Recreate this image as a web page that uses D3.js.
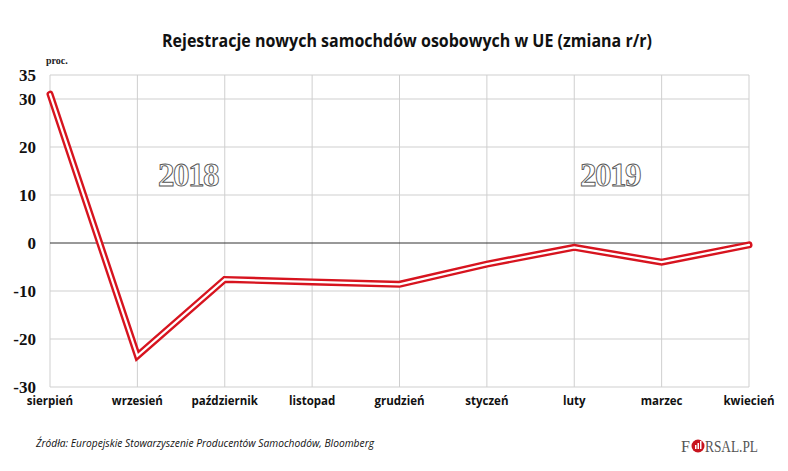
<!DOCTYPE html>
<html><head><meta charset="utf-8">
<script src="https://cdn.jsdelivr.net/npm/d3@7"></script>
<style>body{margin:0;background:#fff}svg{display:block}</style>
</head><body>
<script>
const categories = ["sierpień","wrzesień","październik","listopad","grudzień","styczeń","luty","marzec","kwiecień"];
const values = [31, -23.5, -7.6, -8.1, -8.6, -4.4, -0.9, -4.0, -0.4];
const yTicks = [35, 30, 20, 10, 0, -10, -20, -30];
const yearLabels = [{text:"2018", cat:"październik", offset:-0.42}, {text:"2019", cat:"luty", offset:0.41}];

const W = 788, H = 471;
const svg = d3.select("body").append("svg").attr("width", W).attr("height", H);

const x = d3.scalePoint().domain(categories).range([50, 749]);
const y = d3.scaleLinear().domain([-30, 35]).range([387, 75]);

// title
svg.append("text").attr("x", 407).attr("y", 47).attr("text-anchor", "middle")
  .attr("font-family", "Open Sans, sans-serif").attr("font-weight", "bold").attr("font-size", 17)
  .attr("textLength", 490).attr("lengthAdjust", "spacingAndGlyphs").attr("fill", "#111")
  .text("Rejestracje nowych samochdów osobowych w UE (zmiana r/r)");

// grid horizontal
svg.append("g").selectAll("line").data(yTicks.filter(d => d !== 0)).join("line")
  .attr("x1", 50).attr("x2", 749).attr("y1", d => y(d)).attr("y2", d => y(d))
  .attr("stroke", "#cfcfcf").attr("stroke-width", 1);
// grid vertical
svg.append("g").selectAll("line").data(categories).join("line")
  .attr("x1", d => x(d)).attr("x2", d => x(d)).attr("y1", y(35)).attr("y2", y(-30))
  .attr("stroke", "#cfcfcf").attr("stroke-width", 1);
// zero line
svg.append("line").attr("x1", 50).attr("x2", 749).attr("y1", y(0)).attr("y2", y(0))
  .attr("stroke", "#333").attr("stroke-width", 1);

// y tick labels
svg.append("g").selectAll("text").data(yTicks).join("text")
  .attr("x", 36).attr("y", d => y(d)).attr("dy", "0.35em").attr("text-anchor", "end")
  .attr("font-family", "Liberation Serif, serif").attr("font-weight", "bold").attr("font-size", 17)
  .attr("fill", "#111").text(d => d);
svg.append("text").attr("x", 46).attr("y", 64).attr("font-family", "Liberation Serif, serif")
  .attr("font-weight", "bold").attr("font-size", 10).attr("fill", "#222").text("proc.");

// x labels
svg.append("g").selectAll("text").data(categories).join("text")
  .attr("x", d => x(d)).attr("y", 405).attr("text-anchor", "middle")
  .attr("font-family", "Open Sans, sans-serif").attr("font-weight", "bold").attr("font-size", 11.5)
  .attr("fill", "#111").text(d => d);

// year labels
const step = x.step();
svg.append("g").selectAll("text").data(yearLabels).join("text")
  .attr("x", d => x(d.cat) + d.offset * step).attr("y", 186).attr("text-anchor", "middle")
  .attr("font-family", "Liberation Serif, serif").attr("font-weight", "bold").attr("font-size", 33)
  .attr("letter-spacing", -1.5)
  .attr("fill", "#fff").attr("stroke", "#555").attr("stroke-width", 0.9)
  .text(d => d.text);

// line
const line = d3.line().x((d, i) => x(categories[i])).y(d => y(d));
svg.append("path").datum(values).attr("d", line).attr("fill", "none")
  .attr("stroke", "#d7141f").attr("stroke-width", 7).attr("stroke-linejoin", "miter")
  .attr("stroke-linecap", "round");
svg.append("path").datum(values).attr("d", line).attr("fill", "none")
  .attr("stroke", "#fff").attr("stroke-width", 2.2).attr("stroke-linejoin", "miter")
  .attr("stroke-linecap", "round");

// source
svg.append("text").attr("x", 36).attr("y", 447).attr("font-family", "Open Sans, sans-serif")
  .attr("font-style", "italic").attr("font-size", 11).attr("fill", "#111")
  .attr("textLength", 338).attr("lengthAdjust", "spacingAndGlyphs")
  .text("Źródła: Europejskie Stowarzyszenie Producentów Samochodów, Bloomberg");

// logo
const lg = svg.append("g");
lg.append("text").attr("x", 681).attr("y", 452).attr("font-family", "Liberation Serif, serif")
  .attr("font-size", 16).attr("fill", "#555").text("F");
lg.append("circle").attr("cx", 698).attr("cy", 446).attr("r", 6.5).attr("fill", "#c8141e");
lg.append("rect").attr("x", 695).attr("y", 445).attr("width", 1.5).attr("height", 4).attr("fill", "#fff");
lg.append("rect").attr("x", 697.5).attr("y", 443).attr("width", 1.5).attr("height", 6).attr("fill", "#fff");
lg.append("rect").attr("x", 700).attr("y", 441).attr("width", 1.5).attr("height", 8).attr("fill", "#fff");
lg.append("text").attr("x", 705).attr("y", 452).attr("font-family", "Liberation Serif, serif")
  .attr("font-size", 16).attr("fill", "#555").attr("textLength", 53).attr("lengthAdjust", "spacingAndGlyphs")
  .text("RSAL.PL");
</script>
</body></html>
